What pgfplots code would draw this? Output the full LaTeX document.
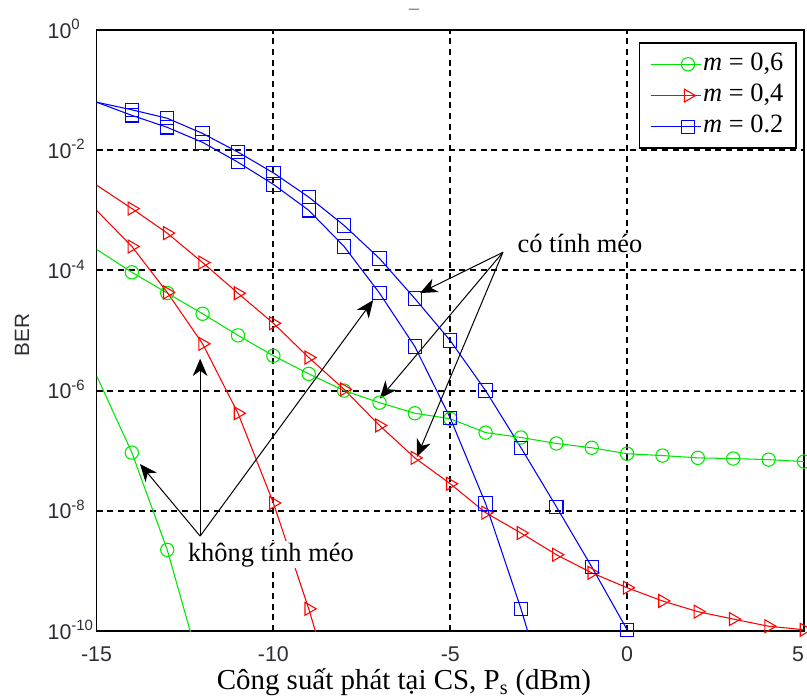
\documentclass[border=0pt]{standalone}
\usepackage{pgfplots}
\pgfplotsset{compat=1.18}
\usepackage{fontspec}
\setmainfont{Liberation Serif}
\setsansfont{Liberation Sans}
\usetikzlibrary{arrows.meta}
\definecolor{mgreen}{RGB}{0,230,0}
\definecolor{mred}{RGB}{255,0,0}
\definecolor{mblue}{RGB}{0,0,255}
\definecolor{lbl}{RGB}{45,45,55}
\begin{document}
\begin{tikzpicture}
\begin{axis}[
  name=ax,
  scale only axis,
  width=530.6pt, height=450.75pt,
  xmin=-15, xmax=5,
  ymode=log, log basis y=10,
  ymin=1e-10, ymax=1,
  xtick={-10,-5,0},
  xticklabels={-10,-5,0},
  extra x ticks={-15,5},
  extra x tick labels={-15,\llap{5}},
  extra x tick style={grid=none},
  ytick={1e-8,1e-6,1e-4,1e-2},
  yticklabels={10\textsuperscript{-8},10\textsuperscript{-6},10\textsuperscript{-4},10\textsuperscript{-2}},
  extra y ticks={1e-10,1},
  extra y tick labels={10\textsuperscript{-10},10\textsuperscript{0}},
  extra y tick style={grid=none},
  yminorticks=false,
  major tick length=0pt,
  grid=major,
  major grid style={black, line width=1.5pt, dash pattern=on 4.5pt off 3.5pt},
  axis line style={black, line width=1.4pt},
  xticklabel style={font=\sffamily\fontsize{16}{18}\selectfont, text=lbl, anchor=base, yshift=-22.5pt},
  yticklabel style={font=\sffamily\fontsize{16}{18}\selectfont, text=lbl, anchor=base west, xshift=-40.1pt, yshift=-6pt},
  legend style={at={(rel axis cs:1,1)}, anchor=north east, xshift=-5.25pt, yshift=-9pt,
    draw=black, line width=1.4pt, fill=white,
    font=\fontsize{19.8}{22}\selectfont,
    inner xsep=8pt, inner ysep=6pt,
    row sep=3.5pt,
    nodes={inner sep=1.5pt, text height=13pt, text depth=4pt}},
  legend cell align=left,
  legend image code/.code={
    \draw[#1, mark=none] (0pt,0pt) -- (37.5pt,0pt);
    \draw[#1, only marks, mark repeat=1, mark phase=1] plot coordinates {(28pt,0pt)};
  },
  every axis plot/.append style={line width=0.8pt, mark size=5pt, mark repeat=1, mark phase=2},
]
% m = 0.6, with distortion
\addplot[mgreen, mark=o, mark options={solid, draw=mgreen, fill=none}] coordinates {
(-15,2.24e-4) (-14,9.3e-5) (-13,4.2e-5) (-12,1.9e-5) (-11,8.3e-6) (-10,3.8e-6)
(-9,1.9e-6) (-8,1.0e-6) (-7,6.3e-7) (-6,4.2e-7) (-5,3.4e-7) (-4,2.0e-7)
(-3,1.66e-7) (-2,1.32e-7) (-1,1.12e-7) (0,8.9e-8) (1,8.3e-8) (2,7.6e-8)
(3,7.4e-8) (4,7.1e-8) (5,6.6e-8)};
\addlegendentry{\textit{m} = 0,6}
% m = 0.4, with distortion
\addplot[mred, mark=triangle, mark size=5.6pt, mark options={solid, rotate=-90, draw=mred, fill=none}] coordinates {
(-15,2.63e-3) (-14,1.07e-3) (-13,4.17e-4) (-12,1.35e-4) (-11,4.17e-5) (-10,1.32e-5)
(-9,3.55e-6) (-8,1.05e-6) (-7,2.63e-7) (-6,7.6e-8) (-5,2.82e-8) (-4,9.3e-9)
(-3,4.27e-9) (-2,1.86e-9) (-1,9.3e-10) (0,5.25e-10) (1,3.16e-10) (2,2.1e-10)
(3,1.58e-10) (4,1.2e-10) (5,1.05e-10)};
\addlegendentry{\textit{m} = 0,4}
% m = 0.2, with distortion
\addplot[mblue, mark=square, mark options={solid, draw=mblue, fill=none}] coordinates {
(-15,6.3e-2) (-14,4.7e-2) (-13,3.4e-2) (-12,1.9e-2) (-11,9.3e-3) (-10,4.2e-3)
(-9,1.66e-3) (-8,5.6e-4) (-7,1.58e-4) (-6,3.4e-5) (-5,6.8e-6) (-4,1.0e-6)
(-3,1.12e-7) (-2,1.17e-8) (-1,1.17e-9) (0,1.05e-10)};
\addlegendentry{\textit{m} = 0.2}
% without distortion
\addplot[mgreen, mark=o, mark options={solid, draw=mgreen, fill=none}, forget plot] coordinates {
(-15,1.78e-6) (-14,9.3e-8) (-13,2.24e-9) (-12,1.86e-11)};
\addplot[mred, mark=triangle, mark size=5.6pt, mark options={solid, rotate=-90, draw=mred, fill=none}, forget plot] coordinates {
(-15,1.0e-3) (-14,2.5e-4) (-13,4.3e-5) (-12,6.0e-6) (-11,4.2e-7) (-10,1.35e-8)
(-9,2.34e-10) (-8,2.5e-12)};
\addplot[mblue, mark=square, mark options={solid, draw=mblue, fill=none}, forget plot] coordinates {
(-15,6.3e-2) (-14,3.8e-2) (-13,2.4e-2) (-12,1.35e-2) (-11,6.3e-3) (-10,2.7e-3)
(-9,1.0e-3) (-8,2.5e-4) (-7,4.2e-5) (-6,5.4e-6) (-5,3.5e-7) (-4,1.32e-8)
(-3,2.34e-10) (-2,2.5e-12)};
% annotations
\draw[black, line width=0.75pt, -{Stealth[length=13pt,width=11pt,inset=4pt]}] (axis cs:-3.51,2.0e-4) -- (axis cs:-5.855,4.2e-5);
\draw[black, line width=0.75pt, -{Stealth[length=13pt,width=11pt,inset=4pt]}] (axis cs:-3.51,2.0e-4) -- (axis cs:-6.99,7.4e-7);
\draw[black, line width=0.75pt, -{Stealth[length=13pt,width=11pt,inset=4pt]}] (axis cs:-3.51,2.0e-4) -- (axis cs:-5.94,7.9e-8);
\draw[black, line width=0.75pt, -{Stealth[length=13pt,width=11pt,inset=4pt]}] (axis cs:-12.07,3.8e-9) -- (axis cs:-13.77,6.0e-8);
\draw[black, line width=0.75pt, -{Stealth[length=13pt,width=11pt,inset=4pt]}] (axis cs:-12.07,3.8e-9) -- (axis cs:-12.07,3.4e-6);
\draw[black, line width=0.75pt, -{Stealth[length=13pt,width=11pt,inset=4pt]}] (axis cs:-12.07,3.8e-9) -- (axis cs:-7.18,3.2e-5);
\node[fill=white, inner sep=1pt, font=\fontsize{19.8}{22}\selectfont] at (axis cs:-1.33,2.8e-4) {có tính méo};
\node[fill=white, inner sep=1pt, font=\fontsize{19.8}{22}\selectfont] at (axis cs:-10.07,1.86e-9) {không tính méo};
\end{axis}
\node[text=gray, font=\sffamily\fontsize{14}{16}\selectfont] at ([shift={(238.1pt,13.5pt)}]ax.north west) {–};
\node[rotate=90, text=lbl, font=\sffamily\fontsize{15.5}{17}\selectfont] at ([shift={(-55.9pt,222pt)}]ax.south west) {BER};
\node[anchor=base, font=\fontsize{21.7}{24}\selectfont] at ([shift={(230.6pt,-44.25pt)}]ax.south west) {Công suất phát tại CS, P\textsubscript{s} (dBm)};
\pgfresetboundingbox
\useasboundingbox ([shift={(-72.375pt,-51pt)}]ax.south west) rectangle ([shift={(532.875pt,473.25pt)}]ax.south west);
\end{tikzpicture}
\end{document}
